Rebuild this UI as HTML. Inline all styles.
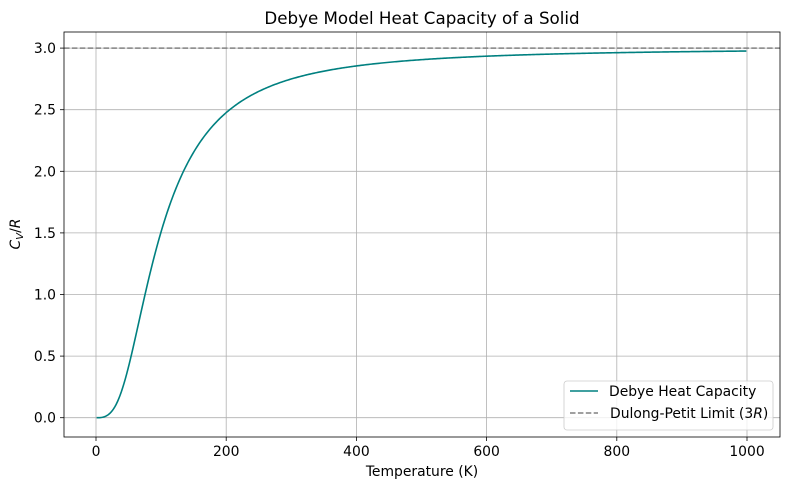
<!DOCTYPE html>
<html><head><meta charset="utf-8"><style>
body{margin:0;background:#fff;}
svg{display:block;font-family:"DejaVu Sans","Liberation Sans",sans-serif;}
</style></head><body>
<svg id="s" width="790" height="490" viewBox="0 0 790 490" xmlns="http://www.w3.org/2000/svg">
<rect width="790" height="490" fill="#fff"/>
<g stroke="#b0b0b0" stroke-width="0.8">
<line x1="96" y1="32" x2="96" y2="437"/><line x1="226.2" y1="32" x2="226.2" y2="437"/>
<line x1="356.4" y1="32" x2="356.4" y2="437"/><line x1="486.6" y1="32" x2="486.6" y2="437"/>
<line x1="616.8" y1="32" x2="616.8" y2="437"/><line x1="747" y1="32" x2="747" y2="437"/>
<line x1="64" y1="417.7" x2="780" y2="417.7"/><line x1="64" y1="356.1" x2="780" y2="356.1"/>
<line x1="64" y1="294.5" x2="780" y2="294.5"/><line x1="64" y1="232.9" x2="780" y2="232.9"/>
<line x1="64" y1="171.3" x2="780" y2="171.3"/><line x1="64" y1="109.7" x2="780" y2="109.7"/>
<line x1="64" y1="48.1" x2="780" y2="48.1"/>
</g>
<line x1="64" y1="48.1" x2="780" y2="48.1" stroke="#808080" stroke-width="1.5" stroke-dasharray="5.5,2.4"/>
<path id="c" fill="none" stroke="#008080" stroke-width="1.6"/>
<rect x="64" y="32" width="716" height="405" fill="none" stroke="#000" stroke-width="0.8"/>
<g stroke="#000" stroke-width="0.8">
<line x1="96" y1="437" x2="96" y2="441"/><line x1="226.2" y1="437" x2="226.2" y2="441"/>
<line x1="356.4" y1="437" x2="356.4" y2="441"/><line x1="486.6" y1="437" x2="486.6" y2="441"/>
<line x1="616.8" y1="437" x2="616.8" y2="441"/><line x1="747" y1="437" x2="747" y2="441"/>
<line x1="60" y1="417.7" x2="64" y2="417.7"/><line x1="60" y1="356.1" x2="64" y2="356.1"/>
<line x1="60" y1="294.5" x2="64" y2="294.5"/><line x1="60" y1="232.9" x2="64" y2="232.9"/>
<line x1="60" y1="171.3" x2="64" y2="171.3"/><line x1="60" y1="109.7" x2="64" y2="109.7"/>
<line x1="60" y1="48.1" x2="64" y2="48.1"/>
</g>
<g font-size="13.9" fill="#000" text-anchor="middle">
<text x="96" y="456">0</text><text x="226.2" y="456">200</text><text x="356.4" y="456">400</text>
<text x="486.6" y="456">600</text><text x="616.8" y="456">800</text><text x="747" y="456">1000</text>
</g>
<g font-size="13.9" fill="#000" text-anchor="end">
<text x="56" y="422.7">0.0</text><text x="56" y="361.1">0.5</text><text x="56" y="299.5">1.0</text>
<text x="56" y="237.9">1.5</text><text x="56" y="176.3">2.0</text><text x="56" y="114.7">2.5</text>
<text x="56" y="53.1">3.0</text>
</g>
<text x="422" y="476" font-size="13.9" text-anchor="middle">Temperature (K)</text>
<text transform="translate(20,234) rotate(-90)" font-size="13.9" text-anchor="middle"><tspan font-style="italic">C</tspan><tspan font-style="italic" font-size="10" dy="3">V</tspan><tspan dy="-3">/</tspan><tspan font-style="italic">R</tspan></text>
<text x="422" y="24" font-size="16.7" text-anchor="middle">Debye Model Heat Capacity of a Solid</text>
<rect x="564" y="381" width="209" height="49" rx="3" fill="#fff" fill-opacity="0.8" stroke="#ccc" stroke-width="0.8"/>
<line x1="570" y1="391" x2="598" y2="391" stroke="#008080" stroke-width="1.6"/>
<text x="609" y="396" font-size="13.9">Debye Heat Capacity</text>
<line x1="570" y1="413" x2="598" y2="413" stroke="#808080" stroke-width="1.5" stroke-dasharray="5.5,2.4"/>
<text x="610" y="418" font-size="13.9">Dulong-Petit Limit (3<tspan font-style="italic">R</tspan>)</text>
</svg>
<script>
(function(){
var th=400,d="";
function cv(T){var xm=th/T,n=400,h=xm/n,s=0;
for(var i=0;i<=n;i++){var x=i*h,f;if(x===0)f=0;else{var e=Math.exp(-x);f=x*x*x*x*e/((1-e)*(1-e));}
var w=(i===0||i===n)?1:(i%2?4:2);s+=w*f;}s*=h/3;return 9*Math.pow(T/th,3)*s;}
for(var T=1;T<=1000;T+=2){var px=96+T*0.651,py=417.7-cv(T)*123.2;d+=(d?"L":"M")+px.toFixed(2)+","+py.toFixed(2);}
document.getElementById("c").setAttribute("d",d);
})();
</script>
</body></html>
